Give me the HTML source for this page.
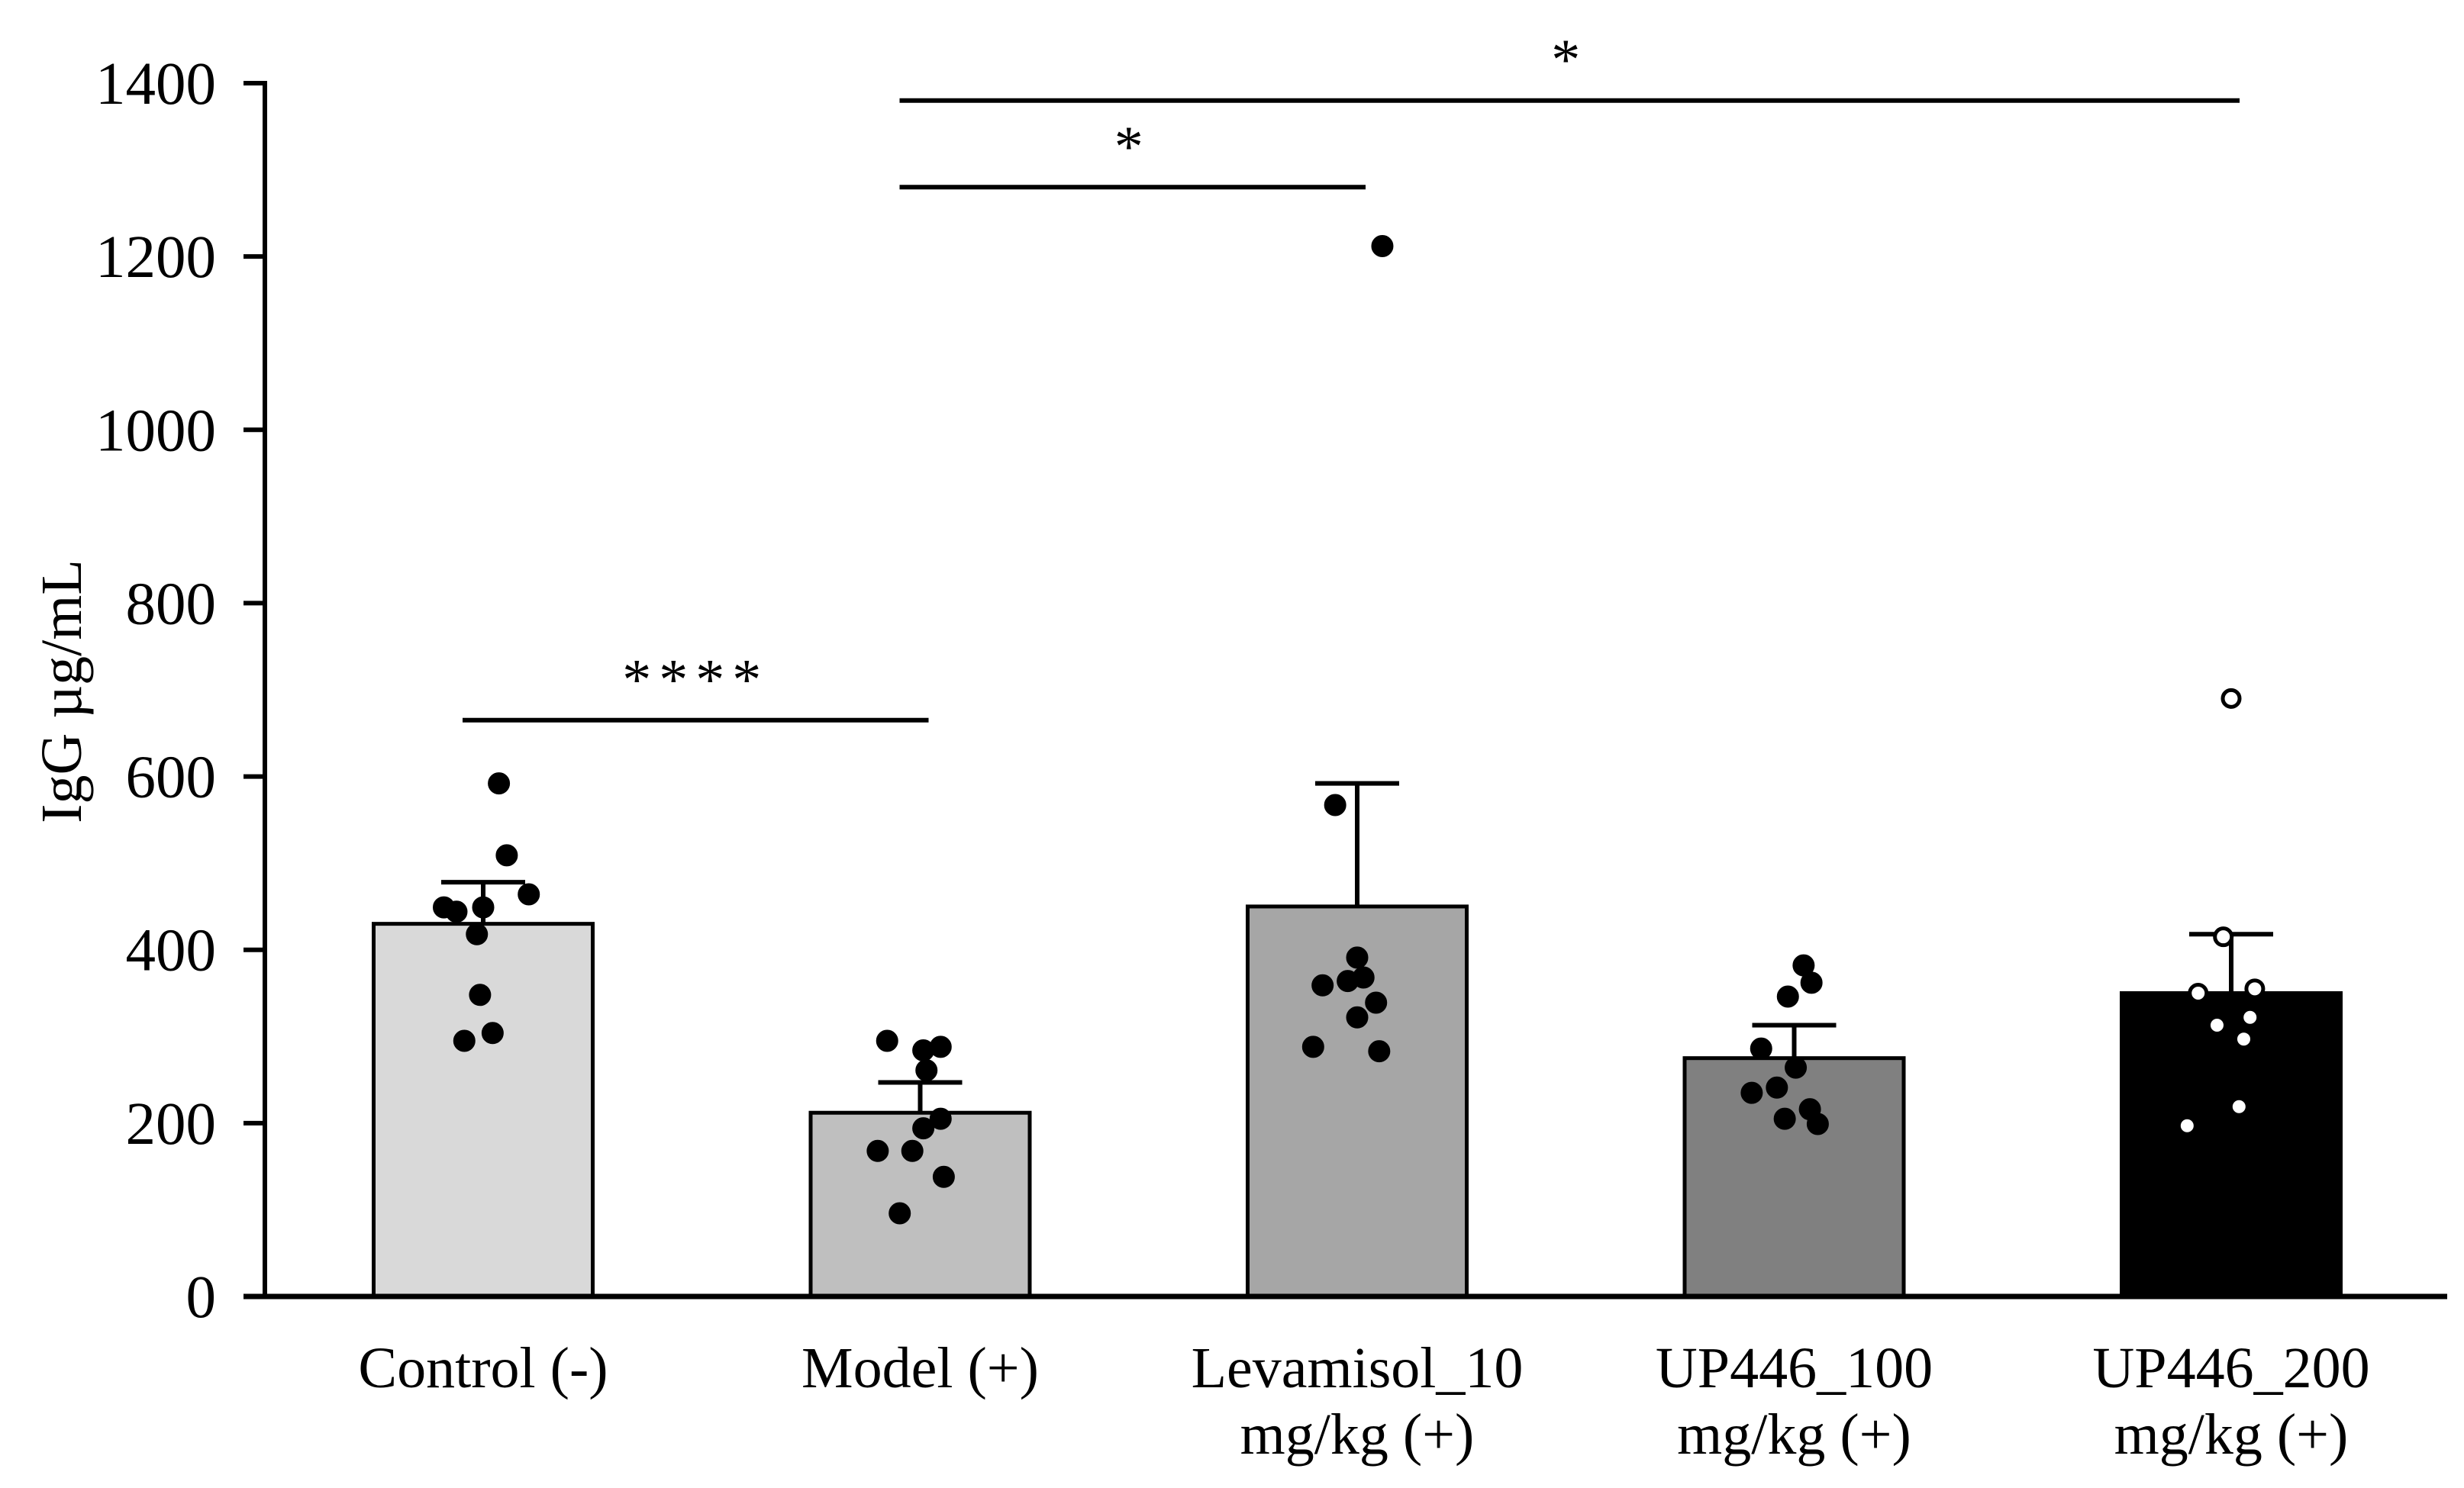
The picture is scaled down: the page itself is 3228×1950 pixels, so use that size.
<!DOCTYPE html>
<html><head><meta charset="utf-8"><style>
html,body{margin:0;padding:0;background:#fff;}
svg{display:block;font-family:"Liberation Serif",serif;}
</style></head><body>
<svg id="chart" width="3228" height="1950" viewBox="0 0 3228 1950" xmlns="http://www.w3.org/2000/svg">
<g id="plot"></g>
</svg>
<script>
const categories = [["Control (-)"],["Model (+)"],["Levamisol_10","mg/kg (+)"],["UP446_100","mg/kg  (+)"],["UP446_200","mg/kg (+)"]];
const means = [430, 212, 450, 275, 350];
const errors = [48, 35, 142, 38, 68];
const barColors = ["#d9d9d9","#bfbfbf","#a6a6a6","#808080","#000000"];
const pointsValues = [
  [592,509,464,449,444,449,418,348,295,304],
  [295,284,288,261,205,194,168,168,138,96],
  [1212,567,391,359,364,368,339,322,288,283],
  [382,362,346,286,264,235,241,216,205,199],
  [690,415,350,355,322,313,297,219,197]
];
const pointsJitter = [
  [10,15,29,-25,-17,0,-4,-2,-12,6],
  [-21,2,13,4,13,2,-27,-5,15,-13],
  [16,-14,0,-22,-6,4,12,0,-28,14],
  [6,11,-4,-21,1,-27,-11,10,-6,15],
  [0,-5,-21,15,12,-9,8,5,-28]
];
const yTicks = [0,200,400,600,800,1000,1200,1400];
const sigBars = [
  {from:0,to:1,value:665,label:"****"},
  {from:1,to:2,value:1280,label:"*"},
  {from:1,to:4,value:1380,label:"*"}
];

const NS="http://www.w3.org/2000/svg";
const g=document.getElementById('plot');
const x0=347, xEnd=3206, y0=1699, yTop=109;
const yMax=1400;
const y=v=>y0-(v/yMax)*(y0-yTop);
const cx=i=>633+i*572.5;
const barW=287, jit=2.06;
function el(tag,attrs,parent){const e=document.createElementNS(NS,tag);for(const k in attrs)e.setAttribute(k,attrs[k]);(parent||g).appendChild(e);return e;}

means.forEach((m,i)=>{
  const r=el('rect',{x:cx(i)-barW/2,y:y(m),width:barW,height:y0-y(m),fill:barColors[i],stroke:'#000','stroke-width':5});
  
  
  const top=y(m+errors[i]);
  const ev=el('line',{x1:cx(i),x2:cx(i),y1:y(m),y2:top,stroke:'#000','stroke-width':6});
  
  
  const eh=el('line',{x1:cx(i)-55,x2:cx(i)+55,y1:top,y2:top,stroke:'#000','stroke-width':6});
  
  
});
pointsValues.forEach((arr,i)=>{
  arr.forEach((v,j)=>{
    const open=i===4;
    const c=el('circle',{cx:cx(i)+pointsJitter[i][j]*jit,cy:y(v),r:open?11:14,fill:open?'#fff':'#000',stroke:'#000','stroke-width':open?5:1});
    
    
  });
});
const ya=el('line',{x1:x0,x2:x0,y1:yTop-3,y2:y0+3,stroke:'#000','stroke-width':6});


const xa=el('line',{x1:x0-28,x2:xEnd,y1:y0,y2:y0,stroke:'#000','stroke-width':7});


yTicks.forEach(t=>{
  const tk=el('line',{x1:x0-28,x2:x0,y1:y(t),y2:y(t),stroke:'#000','stroke-width':6});
  
  
  const tl=el('text',{x:283,y:y(t)+27,'text-anchor':'end','font-size':79});
  tl.textContent=t;
  
  
});
categories.forEach((lines,i)=>{
  lines.forEach((s,k)=>{
    const t=el('text',{x:cx(i),y:1818+k*87,'text-anchor':'middle','font-size':76});
    t.textContent=s;
    
    
  });
});
const yt=el('text',{x:0,y:0,'text-anchor':'middle','font-size':76,transform:'translate(106,906) rotate(-90)'});
yt.textContent='IgG µg/mL';


sigBars.forEach(s=>{
  const x1=cx(s.from)-27, x2=cx(s.to)+11, yy=y(s.value);
  const l=el('line',{x1:x1,x2:x2,y1:yy,y2:yy,stroke:'#000','stroke-width':6});
  
  
  const t=el('text',{x:(x1+x2)/2,y:yy-28,'text-anchor':'middle','font-size':76,'letter-spacing':10});
  t.textContent=s.label;
  
  
});
</script>
</body></html>
